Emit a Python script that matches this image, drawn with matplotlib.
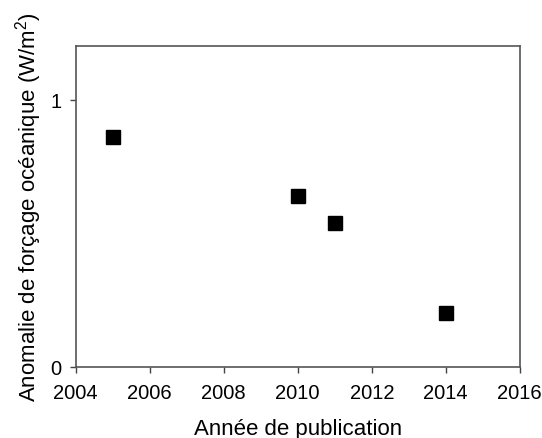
import matplotlib
matplotlib.use("Agg")
from matplotlib import pyplot as plt

plt.rcParams["font.family"] = ["Liberation Sans", "DejaVu Sans"]
plt.rcParams["mathtext.fontset"] = "custom"
plt.rcParams["mathtext.rm"] = "Liberation Sans"

years = [2005, 2010, 2011, 2014]
forcing = [0.86, 0.64, 0.54, 0.20]

xticks = [2004, 2006, 2008, 2010, 2012, 2014, 2016]
yticks = [0, 1]

fig = plt.figure(figsize=(5.42, 4.39), dpi=100)
ax = fig.add_axes([0.1397, 0.1624, 0.8193, 0.7296])

ax.plot(years, forcing, "s", color="black", markersize=10, linestyle="none")

ax.set_xlim(2004, 2016)
ax.set_ylim(0, 1.2)
ax.set_xticks(xticks)
ax.set_yticks(yticks)
ax.tick_params(direction="out", length=4, width=1, color="#444444",
               labelsize=14.5, pad=6)
ax.tick_params(axis="x", pad=8)
for s in ax.spines.values():
    s.set_color("#555555")
    s.set_linewidth(1.2)

ax.set_xlabel("Année de publication", fontsize=16, labelpad=11)
ax.set_ylabel("Anomalie de forçage océanique (W/m$^{2}$)", fontsize=16, labelpad=5)

fig.savefig("out.png", dpi=100)
